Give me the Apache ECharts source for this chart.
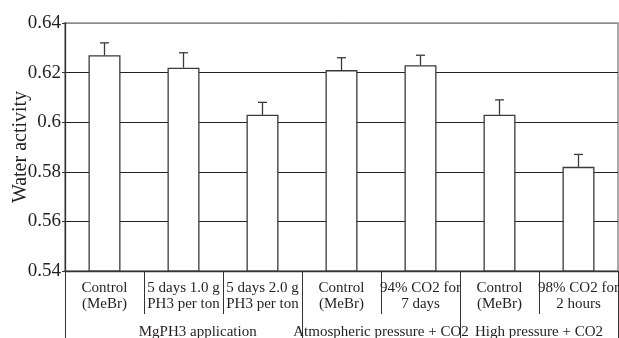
<!DOCTYPE html>
<html>
<head>
<meta charset="utf-8">
<script src="https://cdn.jsdelivr.net/npm/echarts@6/dist/echarts.min.js"></script>
<style>
  html, body { margin: 0; padding: 0; background: #fff; }
  #chart { width: 619px; height: 338px; }
</style>
</head>
<body>
<div id="chart"></div>
<script>
const categories = ['Control\n(MeBr)', '5 days 1.0 g\nPH3 per ton', '5 days 2.0 g\nPH3 per ton',
  'Control\n(MeBr)', '94% CO2 for\n7 days', 'Control\n(MeBr)', '98% CO2 for\n2 hours'];
const means = [0.627, 0.622, 0.603, 0.621, 0.623, 0.603, 0.582];
const errTops = [0.632, 0.628, 0.608, 0.626, 0.627, 0.609, 0.587];
const groups = ['MgPH3 application', 'Atmospheric pressure + CO2', 'High pressure + CO2'];
const groupLabelPos = [1.68, 4, 6];
const groupBounds = [0, 3, 5, 7];

const font = '"Liberation Serif", "DejaVu Serif", serif';
const ink = '#231f20';

const chart = echarts.init(document.getElementById('chart'));

let option = {
  animation: false,
  grid: {
    left: 65, right: 1, top: 23, bottom: 67,
    outerBoundsMode: 'none',
    containLabel: false,
    show: true, borderColor: '#8c8c8c', borderWidth: 1.5
  },
  xAxis: [{
    type: 'category',
    data: categories,
    axisLine: { lineStyle: { color: '#333', width: 1.3 } },
    axisTick: { show: true, length: 43, lineStyle: { color: '#333', width: 1 } },
    axisLabel: {
      interval: 0, margin: 9, color: ink, fontFamily: font, fontSize: 15, lineHeight: 16
    }
  }, {
    type: 'value',
    min: 0, max: 7,
    position: 'bottom',
    axisLine: { show: false },
    splitLine: { show: false },
    axisTick: {
      show: true, length: 67, customValues: groupBounds,
      lineStyle: { color: '#333', width: 1 }
    },
    axisLabel: {
      customValues: groupLabelPos,
      margin: 54, color: ink, fontFamily: font, fontSize: 15,
      formatter: (v) => groups[groupLabelPos.indexOf(v)]
    }
  }],
  yAxis: {
    type: 'value',
    min: 0.54, max: 0.64, interval: 0.02,
    name: 'Water activity',
    nameLocation: 'middle',
    nameGap: 34,
    nameMoveOverlap: false,
    nameTextStyle: { color: ink, fontFamily: font, fontSize: 20 },
    axisLine: { show: true, lineStyle: { color: '#333', width: 1.3 } },
    axisTick: { show: true, length: 3, lineStyle: { color: '#333' } },
    axisLabel: {
      margin: 4, color: ink, fontFamily: font, fontSize: 19,
      formatter: (v) => String(parseFloat(v.toFixed(2)))
    },
    splitLine: {
      show: true,
      lineStyle: { color: ['#222', '#222', '#222', '#222', '#222', '#8c8c8c'], width: 1 }
    }
  },
  series: [{
    type: 'bar',
    data: means,
    barWidth: 32,
    itemStyle: { color: '#fff', borderColor: '#3a3a3a', borderWidth: 1.3 }
  }, {
    type: 'custom',
    z: 5,
    data: means.map((m, i) => [i, m, errTops[i]]),
    encode: { x: 0, y: [1, 2] },
    renderItem: (params, api) => {
      const i = api.value(0);
      const top = api.coord([i, api.value(1)]);
      const e = api.coord([i, api.value(2)]);
      const style = { stroke: '#3a3a3a', lineWidth: 1.3 };
      return {
        type: 'group',
        children: [
          { type: 'line', shape: { x1: top[0], y1: top[1], x2: e[0], y2: e[1] }, style },
          { type: 'line', shape: { x1: e[0] - 4.5, y1: e[1], x2: e[0] + 4.5, y2: e[1] }, style }
        ]
      };
    }
  }]
};

chart.setOption(option);
</script>
</body>
</html>
